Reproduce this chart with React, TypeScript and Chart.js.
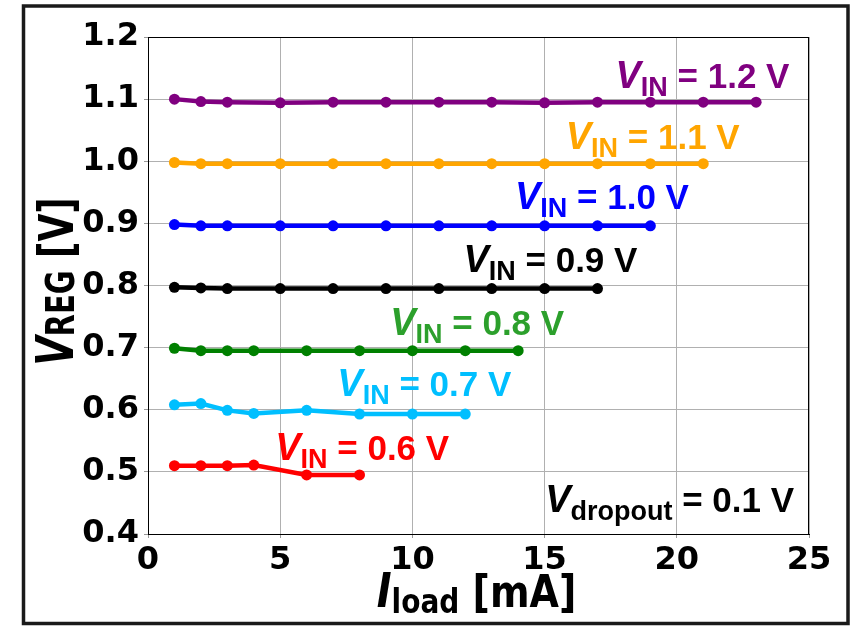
import React, { useEffect, useRef } from "react";
import { Chart, registerables } from "chart.js";

Chart.register(...registerables);

// ---- data ----
const iLoadHigh = [1, 2, 3, 5, 7, 9, 11, 13, 15, 17, 19, 21, 23]; // mA
const iLoadLow = [1, 2, 3, 4, 6, 8, 10, 12, 14]; // mA

const vreg12 = [1.1, 1.096, 1.095, 1.094, 1.095, 1.095, 1.095, 1.095, 1.094, 1.095, 1.095, 1.095, 1.095];
const vreg11 = [0.998, 0.996, 0.996, 0.996, 0.996, 0.996, 0.996, 0.996, 0.996, 0.996, 0.996, 0.996];
const vreg10 = [0.898, 0.896, 0.896, 0.896, 0.896, 0.896, 0.896, 0.896, 0.896, 0.896, 0.896];
const vreg09 = [0.797, 0.796, 0.795, 0.795, 0.795, 0.795, 0.795, 0.795, 0.795, 0.795];
const vreg08 = [0.699, 0.695, 0.695, 0.695, 0.695, 0.695, 0.695, 0.695, 0.695];
const vreg07 = [0.608, 0.61, 0.599, 0.594, 0.599, 0.593, 0.593, 0.593];
const vreg06 = [0.51, 0.51, 0.51, 0.511, 0.495, 0.495];

const seriesNames = ["1.2", "1.1", "1.0", "0.9", "0.8", "0.7", "0.6"];
const seriesColors = ["#800080", "#ffa500", "#0000ff", "#000000", "#008000", "#00bfff", "#ff0000"];
const labelColors = ["#800080", "#ffa500", "#0000ff", "#000000", "#2ca02c", "#00bfff", "#ff0000"];
const labelX = [17.68, 15.8, 13.88, 11.93, 9.16, 7.16, 4.81];
const labelY = [1.118, 1.0197, 0.9227, 0.8222, 0.7203, 0.6221, 0.5191];

const dropoutText = " = 0.1 V";
const dropoutX = 15.02;
const dropoutY = 0.4359;

const xTicks = [0, 5, 10, 15, 20, 25];
const yTicks = [0.4, 0.5, 0.6, 0.7, 0.8, 0.9, 1.0, 1.1, 1.2];

const seriesX = [iLoadHigh, iLoadHigh, iLoadHigh, iLoadHigh, iLoadLow, iLoadLow, iLoadLow];
const seriesY = [vreg12, vreg11, vreg10, vreg09, vreg08, vreg07, vreg06];

type Part = { t: string; f: string; dy?: number };

function drawRich(ctx: CanvasRenderingContext2D, x: number, y: number, parts: Part[], color: string, align: "left" | "center", stretch = 1) {
  ctx.save();
  ctx.fillStyle = color;
  ctx.textBaseline = "alphabetic";
  ctx.textAlign = "left";
  let total = 0;
  for (const p of parts) {
    ctx.font = p.f;
    total += ctx.measureText(p.t).width;
  }
  let cx = align === "center" ? x - total / 2 : x;
  for (const p of parts) {
    ctx.font = p.f;
    ctx.save();
    ctx.translate(cx, y + (p.dy || 0));
    ctx.scale(1, stretch);
    ctx.fillText(p.t, 0, 0);
    ctx.restore();
    cx += ctx.measureText(p.t).width;
  }
  ctx.restore();
}

const LAB = '"Liberation Sans", Arial, sans-serif';
const DJ = '"DejaVu Sans", sans-serif';

const decorPlugin = {
  id: "decor",
  beforeDraw(chart: any) {
    const ctx = chart.ctx as CanvasRenderingContext2D;
    ctx.save();
    ctx.fillStyle = "#ffffff";
    ctx.fillRect(0, 0, chart.width, chart.height);
    ctx.strokeStyle = "#1a1a1a";
    ctx.lineWidth = 3.5;
    ctx.strokeRect(23.5, 6, 824.5, 617.5);
    ctx.restore();
  },
  afterDatasetsDraw(chart: any) {
    const ctx = chart.ctx as CanvasRenderingContext2D;
    const { left, top, right, bottom } = chart.chartArea;
    ctx.save();
    ctx.strokeStyle = "#000";
    ctx.lineWidth = 1;
    ctx.strokeRect(left + 0.5, top + 0.5, right - left - 1, bottom - top);
    ctx.restore();

    const xs = chart.scales.x;
    const ys = chart.scales.y;
    for (let i = 0; i < seriesNames.length; i++) {
      drawRich(
        ctx,
        xs.getPixelForValue(labelX[i]),
        ys.getPixelForValue(labelY[i]),
        [
          { t: "V", f: `italic bold 38px ${LAB}` },
          { t: "IN", f: `bold 27px ${LAB}`, dy: 8 },
          { t: ` = ${seriesNames[i]} V`, f: `bold 35px ${LAB}` },
        ],
        labelColors[i],
        "left"
      );
    }
    drawRich(
      ctx,
      xs.getPixelForValue(dropoutX),
      ys.getPixelForValue(dropoutY),
      [
        { t: "V", f: `italic bold 38px ${LAB}` },
        { t: "dropout", f: `bold 27px ${LAB}`, dy: 8 },
        { t: dropoutText, f: `bold 35px ${LAB}` },
      ],
      "#000",
      "left"
    );

    // x-axis title
    drawRich(
      ctx,
      (left + right) / 2 - 2,
      607,
      [
        { t: "I", f: `italic bold 40px ${DJ}` },
        { t: "load", f: `bold 28px ${DJ}`, dy: 6 },
        { t: " [mA]", f: `bold 38px ${DJ}` },
      ],
      "#000",
      "center",
      1.18
    );
    // y-axis title
    ctx.save();
    ctx.translate(73, (top + bottom) / 2 - 4);
    ctx.rotate(-Math.PI / 2);
    drawRich(
      ctx,
      0,
      0,
      [
        { t: "V", f: `italic bold 38px ${DJ}` },
        { t: "REG", f: `bold 29px ${DJ}`, dy: 1 },
        { t: " [V]", f: `bold 36px ${DJ}` },
      ],
      "#000",
      "center",
      1.35
    );
    ctx.restore();
  },
};

export default function App() {
  const ref = useRef<HTMLCanvasElement>(null);
  useEffect(() => {
    if (!ref.current) return;
    const datasets = seriesNames.map((n, i) => ({
      label: `VIN = ${n} V`,
      data: seriesX[i].map((x, j) => ({ x, y: seriesY[i][j] })),
      borderColor: seriesColors[i],
      backgroundColor: seriesColors[i],
      pointBackgroundColor: seriesColors[i],
      pointBorderWidth: 0,
      pointRadius: 5.5,
      borderWidth: 4.5,
      tension: 0,
    }));
    const chart = new Chart(ref.current, {
      type: "line",
      data: { datasets },
      options: {
        animation: false,
        responsive: false,
        layout: { padding: { left: 0, top: 37, right: 47, bottom: 0 } },
        plugins: { legend: { display: false }, tooltip: { enabled: false } },
        scales: {
          x: {
            type: "linear",
            min: 0,
            max: 25,
            afterFit: (s: any) => {
              s.height = 94;
            },
            afterBuildTicks: (s: any) => {
              s.ticks = xTicks.map((v) => ({ value: v }));
            },
            ticks: {
              font: { family: "DejaVu Sans", weight: "bold", size: 32 },
              color: "#000",
              padding: 3,
              maxRotation: 0,
              callback: (v: any) => String(v),
            },
            grid: { color: "#b0b0b0", lineWidth: 1, tickLength: 4, tickColor: "#999" },
            border: { color: "#000", width: 1 },
          },
          y: {
            type: "linear",
            min: 0.4,
            max: 1.2,
            afterFit: (s: any) => {
              s.width = 148;
            },
            afterBuildTicks: (s: any) => {
              s.ticks = yTicks.map((v) => ({ value: v }));
            },
            ticks: {
              font: { family: "DejaVu Sans", weight: "bold", size: 32 },
              color: "#000",
              padding: 5,
              callback: (v: any) => Number(v).toFixed(1),
            },
            grid: { color: "#b0b0b0", lineWidth: 1, tickLength: 4, tickColor: "#999" },
            border: { color: "#000", width: 1 },
          },
        },
      },
      plugins: [decorPlugin],
    });
    return () => chart.destroy();
  }, []);
  return (
    <div style={{ position: "absolute", left: 0, top: 0, width: 856, height: 628 }}>
      <canvas ref={ref} width={856} height={628} style={{ width: 856, height: 628, display: "block" }} />
    </div>
  );
}
